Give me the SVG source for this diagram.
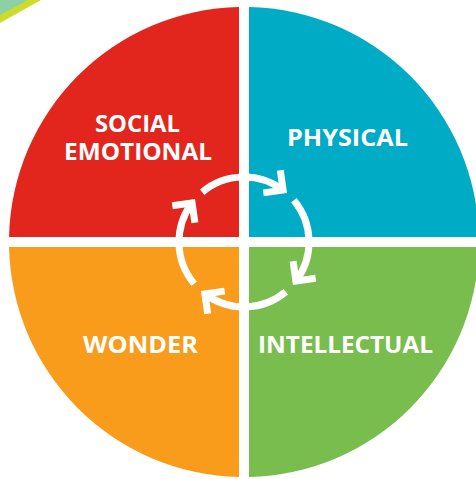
<svg xmlns="http://www.w3.org/2000/svg" width="476" height="479" viewBox="0 0 476 479">
<style>
.lbl{font-family:"Open Sans","Noto Sans","Liberation Sans",sans-serif;font-weight:bold;font-size:22.5px;fill:#fff;text-anchor:middle}
.ring{fill:none;stroke:#fff;stroke-width:7;stroke-linejoin:miter;stroke-linecap:butt}
</style>
<defs>
<path id="arr" class="ring" d="M49.8,-41.8 A65,65 0 0 1 51.9,39.1 M49.1,19.3 L51.9,39.1 L71.7,36.3"/>
</defs>
<rect width="476" height="479" fill="#fff"/>
<polygon points="0,0 41,0 0,23" fill="#CDDC29"/>
<polygon points="0,0 28,0 0,15" fill="#8ECFA6"/>
<g id="social-emotional">
<path d="M239,237 V7.05 A235,235 0 0 0 9.05,237 Z" fill="#E3261D"/>
<text class="lbl" x="137.5" y="132" textLength="85" lengthAdjust="spacingAndGlyphs">SOCIAL</text>
<text class="lbl" x="138" y="160" textLength="148" lengthAdjust="spacingAndGlyphs">EMOTIONAL</text>
</g>
<g id="physical">
<path d="M249,237 V7.05 A235,235 0 0 1 478.95,237 Z" fill="#00ABC5"/>
<text class="lbl" x="347.5" y="146" textLength="121" lengthAdjust="spacingAndGlyphs">PHYSICAL</text>
</g>
<g id="intellectual">
<path d="M249,247 H478.95 A235,235 0 0 1 249,476.95 Z" fill="#7ABD4F"/>
<text class="lbl" x="345.5" y="353" textLength="175" lengthAdjust="spacingAndGlyphs">INTELLECTUAL</text>
</g>
<g id="wonder">
<path d="M239,247 V476.95 A235,235 0 0 1 9.05,247 Z" fill="#F99C1C"/>
<text class="lbl" x="140.5" y="353" textLength="115" lengthAdjust="spacingAndGlyphs">WONDER</text>
</g>
<g id="connectors" transform="translate(244,242)">
<use href="#arr"/>
<use href="#arr" transform="rotate(90)"/>
<use href="#arr" transform="rotate(180)"/>
<use href="#arr" transform="rotate(270)"/>
</g>
</svg>
